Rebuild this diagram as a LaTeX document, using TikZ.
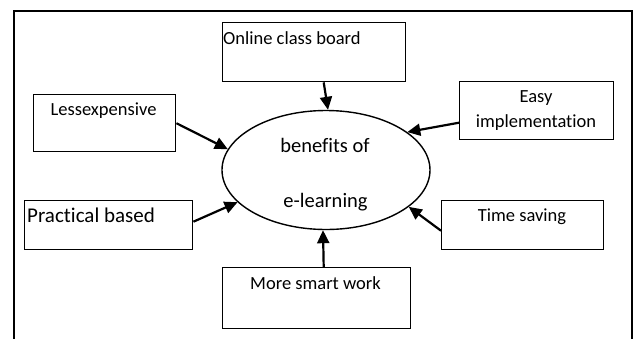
\documentclass[tikz,border=0pt]{standalone}
\usepackage{fontspec}
\setmainfont{Carlito}[Ligatures=NoCommon]
\usetikzlibrary{arrows.meta,shapes.geometric}
\begin{document}
\begin{tikzpicture}[x=1pt,y=1pt,
  box/.style={draw,line width=1.4pt,inner sep=0pt,anchor=north west},
  lbl/.style={anchor=base,inner sep=0pt,font=\fontsize{18.5}{22}\selectfont},
  arr/.style={line width=2.2pt,-{Triangle[length=13pt,width=12pt]}}]
\useasboundingbox (0,0) rectangle (635,-338);
% outer frame (bottom cut off)
\draw[line width=1.4pt] (14,-345) -- (14,-11) -- (632,-11) -- (632,-345);
% boxes
\node[box,minimum width=183pt,minimum height=59pt] (online) at (222,-22) {};
\node[box,minimum width=142pt,minimum height=57pt] (less) at (33,-94) {};
\node[box,minimum width=154pt,minimum height=58pt] (easy) at (459,-81) {};
\node[box,minimum width=168pt,minimum height=49pt] (prac) at (24,-200) {};
\node[box,minimum width=188pt,minimum height=61pt] (smart) at (222,-267) {};
\node[box,minimum width=162pt,minimum height=49pt] (time) at (441,-200) {};
\node[draw,ellipse,line width=1.4pt,minimum width=208pt,minimum height=119pt,inner sep=0pt] (ell) at (326,-170) {};
% texts
\node[lbl,anchor=base west] (onlineT) at (223,-44) {Online class board};
\node[lbl] (lessT) at (103.5,-115) {Lessexpensive};
\node[lbl] (easyT1) at (536,-102) {Easy};
\node[lbl] (easyT2) at (536,-127) {implementation};
\node[lbl,anchor=base west,font=\fontsize{21}{25}\selectfont] (pracT) at (27,-222) {Practical based};
\node[lbl] (smartT) at (315.5,-289) {More smart work};
\node[lbl] (timeT) at (522,-221) {Time saving};
\node[lbl,font=\fontsize{20.5}{24}\selectfont] (ellT1) at (325,-152) {benefits of};
\node[lbl,font=\fontsize{20.5}{24}\selectfont] (ellT2) at (325.5,-207) {e-learning};
% arrows
\draw[arr] ([xshift=9.5pt]online.south) -- ([xshift=2pt]ell.north);
\draw[arr] (less.east) -- (ell.168);
\draw[arr] ([yshift=-12pt]easy.west) -- (ell.25);
\draw[arr] ([yshift=3.5pt]prac.east) -- (ell.200);
\draw[arr] ([xshift=7pt]smart.north) -- ([xshift=-3pt]ell.south);
\draw[arr] ([yshift=-5.5pt]time.west) -- (ell.336);
\end{tikzpicture}
\end{document}
